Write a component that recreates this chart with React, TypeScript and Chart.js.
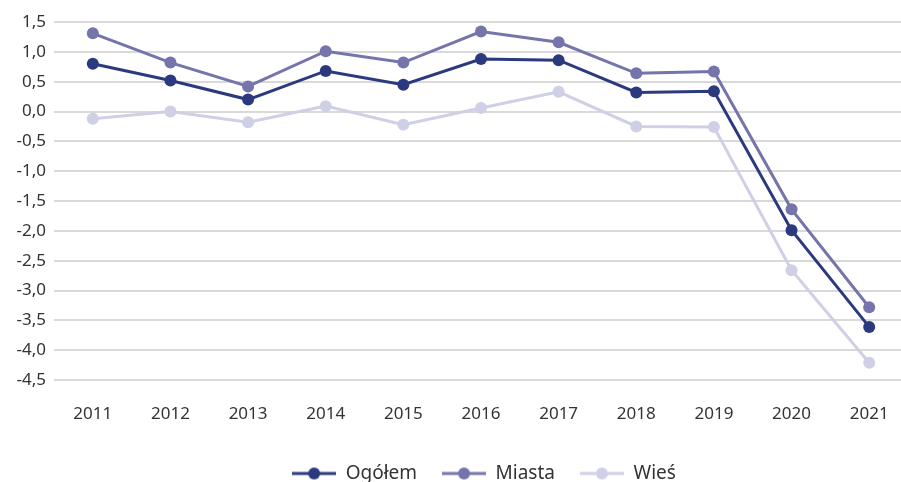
import React, { useEffect, useRef } from "react";
import { Chart, registerables } from "chart.js";

Chart.register(...registerables);

const years = ["2011", "2012", "2013", "2014", "2015", "2016", "2017", "2018", "2019", "2020", "2021"];
const ogolem = [0.8, 0.52, 0.2, 0.68, 0.45, 0.88, 0.86, 0.32, 0.34, -1.99, -3.61];
const miasta = [1.31, 0.82, 0.42, 1.01, 0.82, 1.34, 1.16, 0.64, 0.67, -1.64, -3.28];
const wies = [-0.12, 0.0, -0.18, 0.09, -0.22, 0.06, 0.33, -0.25, -0.26, -2.66, -4.21];
const seriesNames = ["Ogółem", "Miasta", "Wieś"];
const seriesColors = ["#2b3a7e", "#7574ab", "#cfcfe6"];
const yMin = -4.5;
const yMax = 1.5;
const yStep = 0.5;

const FONT = "'Noto Sans', 'Open Sans', sans-serif";

function legendIcon(color: string): HTMLCanvasElement {
  const c = document.createElement("canvas");
  c.width = 44;
  c.height = 14;
  const ctx = c.getContext("2d")!;
  ctx.strokeStyle = color;
  ctx.lineWidth = 3;
  ctx.beginPath();
  ctx.moveTo(0, 7);
  ctx.lineTo(44, 7);
  ctx.stroke();
  ctx.fillStyle = color;
  ctx.beginPath();
  ctx.arc(22, 7, 6, 0, Math.PI * 2);
  ctx.fill();
  return c;
}

const legendShift = {
  id: "legendShift",
  afterLayout(chart: any) {
    const l = chart.legend;
    if (l) {
      l.left += 28;
      l.right += 28;
    }
  },
};

export default function App() {
  const ref = useRef<HTMLCanvasElement | null>(null);

  useEffect(() => {
    document.body.style.margin = "0";
    const values = [ogolem, miasta, wies];
    const chart = new Chart(ref.current!, {
      type: "line",
      data: {
        labels: years,
        datasets: seriesNames.map((name, i) => ({
          label: name,
          data: values[i],
          borderColor: seriesColors[i],
          backgroundColor: seriesColors[i],
          borderWidth: 3,
          pointRadius: 6,
          pointHoverRadius: 6,
          pointBorderWidth: 0,
          tension: 0,
          order: i + 1,
        })),
      },
      plugins: [legendShift],
      options: {
        responsive: false,
        animation: false,
        layout: { padding: { top: 22, right: 2, left: 0, bottom: -11 } },
        plugins: {
          tooltip: { enabled: false },
          legend: {
            position: "bottom",
            labels: {
              usePointStyle: true,
              pointStyleWidth: 44,
              padding: 25,
              color: "#333333",
              font: { family: FONT, size: 19 },
              generateLabels: (ch: any) =>
                ch.data.datasets.map((ds: any, i: number) => ({
                  text: ds.label,
                  fillStyle: ds.borderColor,
                  strokeStyle: ds.borderColor,
                  lineWidth: 0,
                  pointStyle: legendIcon(ds.borderColor),
                  hidden: false,
                  datasetIndex: i,
                  fontColor: "#333333",
                })),
            },
          },
        },
        scales: {
          x: {
            offset: true,
            grid: { display: false, drawTicks: false },
            border: { display: false },
            ticks: {
              color: "#333333",
              font: { family: FONT, size: 17 },
              padding: 24,
              maxRotation: 0,
            },
            afterFit: (s: any) => {
              s.height = 59;
              s.paddingLeft = 0;
              s.paddingRight = 0;
            },
          },
          y: {
            min: yMin,
            max: yMax,
            grid: { color: "#d9d9d9", lineWidth: 2, drawTicks: false },
            border: { display: false },
            ticks: {
              stepSize: yStep,
              color: "#333333",
              font: { family: FONT, size: 17 },
              padding: 8,
              callback: (v: any) => Number(v).toFixed(1).replace(".", ","),
            },
            afterFit: (s: any) => {
              s.width = 54;
            },
          },
        },
      },
    });
    return () => chart.destroy();
  }, []);

  return (
    <div style={{ width: 901, height: 482, overflow: "hidden", position: "relative" }}>
      <canvas ref={ref} width={914} height={482} style={{ display: "block" }} />
    </div>
  );
}
